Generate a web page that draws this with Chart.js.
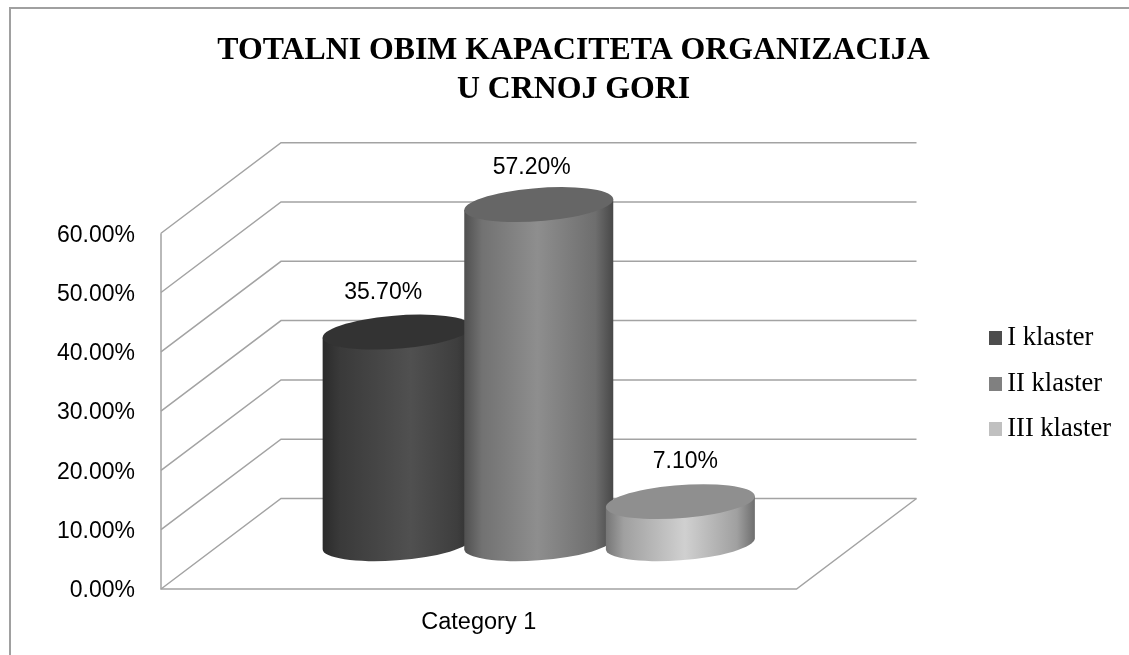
<!DOCTYPE html>
<html>
<head>
<meta charset="utf-8">
<title>Totalni obim kapaciteta</title>
<script src="https://cdn.jsdelivr.net/npm/chart.js@4"></script>
<style>
  html, body { margin: 0; background: #fff; }
  #wrap { position: relative; width: 1129px; height: 655px; overflow: hidden; }
  #frame { position: absolute; left: 9px; top: 7px; width: 1200px; height: 700px; border: 2px solid #a0a0a0; }
  canvas { position: absolute; left: 0; top: 0; }
</style>
</head>
<body>
<div id="wrap">
  <div id="frame"></div>
  <canvas id="chart" width="1129" height="655"></canvas>
</div>
<script>
const categories = ['Category 1'];
const seriesNames = ['I klaster', 'II klaster', 'III klaster'];
const seriesValues = [[35.7], [57.2], [7.1]];
const legendColors = ['#4d4d4d', '#808080', '#c0c0c0'];
const titleLines = ['TOTALNI OBIM KAPACITETA ORGANIZACIJA', 'U CRNOJ GORI'];

// shading of each cylinder, left to right: [stop, colour]
const bodyShades = [
  [[0, '#2b2b2b'], [0.12, '#3a3a3a'], [0.59, '#505050'], [0.9, '#3e3e3e'], [1, '#303030']],
  [[0, '#505050'], [0.12, '#727272'], [0.49, '#8e8e8e'], [0.88, '#6e6e6e'], [1, '#484848']],
  [[0, '#767676'], [0.12, '#a0a0a0'], [0.53, '#d0d0d0'], [0.88, '#a0a0a0'], [1, '#6e6e6e']]
];
const capShades = ['#333333', '#666666', '#8f8f8f'];
const labelNudgeX = [-14, -7, 5];
const labelNudgeY = [0, 3, -1];

// 3D depth of the box, in px
const depthX = 120;
const depthY = -90.5;
const capDepth = 0.193;

function fmt(v) {
  return v.toFixed(2) + '%';
}

// legend swatch, blank on the left so it sits close to the text
function swatch(color) {
  const c = document.createElement('canvas');
  c.width = 19;
  c.height = 14;
  const g = c.getContext('2d');
  g.fillStyle = color;
  g.fillRect(6, 0, 13, 14);
  return c;
}

function drawWalls(chart) {
  const { ctx, scales: { x, y } } = chart;
  const left = x.left, right = x.right, y0 = y.getPixelForValue(0);
  ctx.save();
  ctx.strokeStyle = '#a3a3a3';
  ctx.lineWidth = 1.5;
  y.ticks.forEach(t => {
    const py = y.getPixelForValue(t.value);
    ctx.beginPath();
    ctx.moveTo(left, py);
    ctx.lineTo(left + depthX, py + depthY);
    ctx.lineTo(right + depthX, py + depthY);
    ctx.stroke();
  });
  ctx.beginPath();
  ctx.moveTo(left, y.getPixelForValue(60));
  ctx.lineTo(left, y0);
  ctx.lineTo(right, y0);
  ctx.lineTo(right + depthX, y0 + depthY);
  ctx.stroke();
  ctx.restore();
}

function drawCylinder(ctx, bar, i) {
  const r = bar.width / 2;
  const cx = bar.x + depthX / 2;
  const topY = bar.y + depthY / 2;
  const baseY = bar.base + depthY / 2;
  const sx = depthX * capDepth;
  const sy = depthY * capDepth;
  const t0 = Math.atan2(sx, r);
  const halfW = Math.hypot(r, sx);
  const edgeDy = sy * Math.sin(t0);

  const grad = ctx.createLinearGradient(cx - halfW, 0, cx + halfW, 0);
  bodyShades[i].forEach(s => grad.addColorStop(s[0], s[1]));

  ctx.save();
  ctx.beginPath();
  ctx.save();
  ctx.transform(r, 0, sx, sy, cx, baseY);
  ctx.arc(0, 0, 1, t0 + Math.PI, t0 + 2 * Math.PI);
  ctx.restore();
  ctx.lineTo(cx + halfW, topY + edgeDy);
  ctx.lineTo(cx - halfW, topY - edgeDy);
  ctx.closePath();
  ctx.fillStyle = grad;
  ctx.fill();

  ctx.beginPath();
  ctx.save();
  ctx.transform(r, 0, sx, sy, cx, topY);
  ctx.arc(0, 0, 1, 0, 2 * Math.PI);
  ctx.restore();
  ctx.fillStyle = capShades[i];
  ctx.fill();
  ctx.restore();
}

const cylinders = {
  id: 'cylinders',
  afterLayout(chart) {
    // keep the legend out at the right of the depth box
    const lg = chart.legend;
    const w = lg.width, h = lg.height;
    lg.left = 972;
    lg.right = lg.left + w;
    lg.top = 306;
    lg.bottom = lg.top + h;
    // title is centred on the whole picture, not on the plot
    const t = chart.titleBlock;
    const tw = t.right - t.left;
    t.left = 573.5 - tw / 2;
    t.right = 573.5 + tw / 2;
  },
  beforeDatasetsDraw(chart) {
    const { ctx } = chart;
    drawWalls(chart);
    chart.data.datasets.forEach((ds, i) => {
      drawCylinder(ctx, chart.getDatasetMeta(i).data[0], i);
    });
    ctx.save();
    ctx.fillStyle = '#000';
    ctx.font = '23px "Liberation Sans"';
    ctx.textAlign = 'center';
    ctx.textBaseline = 'middle';
    chart.data.datasets.forEach((ds, i) => {
      const bar = chart.getDatasetMeta(i).data[0];
      ctx.fillText(fmt(ds.data[0]), bar.x + depthX / 2 + labelNudgeX[i],
        bar.y + depthY / 2 + depthY * capDepth - 22 + labelNudgeY[i]);
    });
    ctx.restore();
  },
  beforeDatasetDraw() {
    return false;
  }
};

new Chart(document.getElementById('chart').getContext('2d'), {
  type: 'bar',
  data: {
    labels: categories,
    datasets: seriesNames.map((name, i) => ({
      label: name,
      data: seriesValues[i],
      backgroundColor: legendColors[i],
      categoryPercentage: 0.6685,
      barPercentage: 1
    }))
  },
  options: {
    responsive: false,
    animation: false,
    layout: { padding: { right: 183.5 } },
    plugins: {
      tooltip: { enabled: false },
      title: {
        display: true,
        text: titleLines,
        color: '#000',
        font: { family: '"Liberation Serif"', size: 31.8, weight: 'bold', lineHeight: 1.23 },
        padding: { top: 31, bottom: 124 }
      },
      legend: {
        position: 'right',
        align: 'start',
        labels: {
          color: '#000',
          font: { family: '"Liberation Serif"', size: 26.5 },
          padding: 19,
          usePointStyle: true,
          pointStyleWidth: 3,
          boxHeight: 13,
          generateLabels: chart => seriesNames.map((name, i) => ({
            text: name,
            fillStyle: legendColors[i],
            strokeStyle: legendColors[i],
            lineWidth: 0,
            pointStyle: swatch(legendColors[i]),
            datasetIndex: i
          }))
        }
      }
    },
    scales: {
      x: {
        afterFit(s) { s.height = 66; },
        grid: { display: false },
        border: { display: false },
        ticks: { color: '#000', padding: 11, font: { family: '"Liberation Sans"', size: 23.5 } }
      },
      y: {
        min: 0,
        max: 60,
        afterFit(s) { s.width = 161; },
        grid: { display: false },
        border: { display: false },
        ticks: {
          stepSize: 10,
          color: '#000',
          padding: 18,
          labelOffset: 2,
          callback: v => fmt(v),
          font: { family: '"Liberation Sans"', size: 23 }
        }
      }
    }
  },
  plugins: [cylinders]
});
</script>
</body>
</html>
